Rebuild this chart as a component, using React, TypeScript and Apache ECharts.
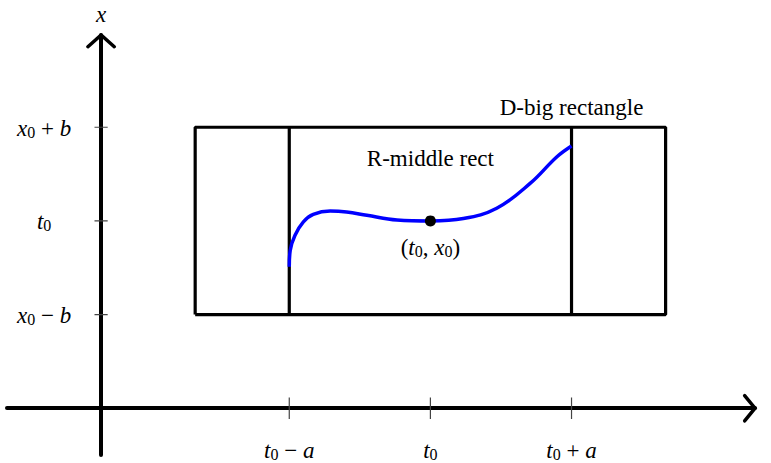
import React, { useEffect, useRef } from "react";
import * as echarts from "echarts";

// Axis ticks and their labels
const X_TICKS = [4, 7, 10];
const X_TICK_LABELS = ["{i|t}{s|0}{n| − }{i|a}", "{i|t}{s|0}", "{i|t}{s|0}{n| + }{i|a}"];
const Y_TICKS = [2, 4, 6];
const Y_TICK_LABELS = ["{i|x}{s|0}{n| − }{i|b}", "{i|t}{s|0}", "{i|x}{s|0}{n| + }{i|b}"];

// Rectangles (t0-a .. t0+a for R, wider for D), x0-b .. x0+b
const BIG_T = [2, 12];
const MID_T = [4, 10];
const RECT_X = [2, 6];

// Solution curve through (t0, x0)
const CURVE_T = [4, 4.02, 4.12, 4.3, 4.51, 4.87, 5.22, 5.65, 6.29, 7, 7.7, 8.41, 9.12, 9.69, 10];
const CURVE_X = [3.02, 3.37, 3.69, 3.98, 4.14, 4.21, 4.19, 4.12, 4.02, 4.0, 4.05, 4.27, 4.8, 5.37, 5.6];
const POINT = [7, 4];

const X_MIN = -2, X_MAX = 13.9, Y_MIN = -1, Y_MAX = 7.97;

const FONT = "Liberation Serif";
const FS = 23;
const rich = {
  i: { fontFamily: FONT, fontStyle: "italic", fontSize: FS, lineHeight: 24, color: "#000" },
  n: { fontFamily: FONT, fontSize: FS, lineHeight: 24, color: "#000" },
  s: { fontFamily: FONT, fontSize: 16, lineHeight: 13, verticalAlign: "bottom", color: "#000" },
};

export default function App() {
  const ref = useRef<HTMLDivElement>(null);
  useEffect(() => {
    if (!ref.current) return;
    const chart = echarts.init(ref.current, null, { renderer: "svg" });

    const xTickSegs: any[] = [];
    X_TICKS.forEach((t) => { xTickSegs.push([t, -0.23], [t, 0.23], "-"); });
    const yTickSegs: any[] = [];
    Y_TICKS.forEach((v) => { yTickSegs.push([-0.14, v], [0.14, v], "-"); });

    const lineBase = { type: "line", symbol: "none", silent: true, animation: false };

    chart.setOption({
      animation: false,
      grid: { left: 7, right: 16, top: 35, bottom: 8, containLabel: false, outerBoundsMode: "none" },
      xAxis: {
        type: "value", min: X_MIN, max: X_MAX,
        splitLine: { show: false },
        axisTick: { show: false },
        axisLabel: { show: false },
        axisLine: { show: true, onZero: true, lineStyle: { color: "#000", width: 4 } },
      },
      yAxis: {
        type: "value", min: Y_MIN, max: Y_MAX,
        name: "x",
        nameLocation: "end",
        nameGap: 21,
        nameTextStyle: { fontFamily: FONT, fontStyle: "italic", fontSize: FS, color: "#000", align: "center", verticalAlign: "middle" },
        splitLine: { show: false },
        axisTick: { show: false },
        axisLabel: { show: false },
        axisLine: { show: true, onZero: true, lineStyle: { color: "#000", width: 4 } },
      },
      series: [
        {
          ...lineBase, name: "xticks", data: xTickSegs, lineStyle: { color: "#444", width: 1.2 }, z: 3,
          markPoint: {
            symbol: "circle", symbolSize: 0, silent: true,
            data: X_TICKS.map((t, i) => ({ coord: [t, 0], value: i, name: X_TICK_LABELS[i] })),
            label: { show: true, position: "inside", offset: [0, 42], formatter: (p: any) => p.name, rich },
          },
        },
        {
          ...lineBase, name: "yticks", data: yTickSegs, lineStyle: { color: "#444", width: 1.2 }, z: 3,
          markPoint: {
            symbol: "circle", symbolSize: 0, silent: true,
            data: Y_TICKS.map((v, i) => ({ coord: [0, v], value: i, name: Y_TICK_LABELS[i] })),
            label: { show: true, position: "inside", offset: [-57, 1], formatter: (p: any) => p.name, rich },
          },
        },
        {
          ...lineBase, name: "xarrow",
          data: [[X_MAX - 0.22, 0.27], [X_MAX, 0], [X_MAX - 0.22, -0.27]],
          smooth: false, lineStyle: { color: "#000", width: 3.5, cap: "round", join: "miter" }, z: 4,
        },
        {
          ...lineBase, name: "yarrow",
          data: [[-0.28, Y_MAX - 0.25], [0, Y_MAX], [0.28, Y_MAX - 0.25]],
          smooth: false, lineStyle: { color: "#000", width: 3.5, cap: "round", join: "miter" }, z: 4,
        },
        {
          ...lineBase, name: "D",
          data: [[BIG_T[0], RECT_X[0]], [BIG_T[1], RECT_X[0]], [BIG_T[1], RECT_X[1]], [BIG_T[0], RECT_X[1]], [BIG_T[0], RECT_X[0]]],
          lineStyle: { color: "#000", width: 3.2 }, z: 3,
          markPoint: {
            symbol: "circle", symbolSize: 0, silent: true,
            data: [{ coord: [MID_T[1], RECT_X[1] + 0.43], name: "D-big rectangle" }],
            label: { show: true, position: "inside", formatter: "D-big rectangle", fontFamily: FONT, fontSize: FS, color: "#000" },
          },
        },
        {
          ...lineBase, name: "R",
          data: [[MID_T[0], RECT_X[0]], [MID_T[0], RECT_X[1]], "-", [MID_T[1], RECT_X[0]], [MID_T[1], RECT_X[1]]],
          lineStyle: { color: "#000", width: 3.2 }, z: 3,
          markPoint: {
            symbol: "circle", symbolSize: 0, silent: true,
            data: [{ coord: [POINT[0], RECT_X[1] - 0.66], name: "R-middle rect" }],
            label: { show: true, position: "inside", formatter: "R-middle rect", fontFamily: FONT, fontSize: FS, color: "#000" },
          },
        },
        {
          ...lineBase, name: "curve",
          data: CURVE_T.map((t, i) => [t, CURVE_X[i]]),
          smooth: 0.4,
          lineStyle: { color: "#0000ff", width: 3.5 }, z: 5,
        },
        {
          type: "scatter", name: "point", silent: true,
          data: [POINT],
          symbolSize: 11,
          itemStyle: { color: "#000", opacity: 1 },
          z: 6,
          label: {
            show: true, position: "bottom", distance: 9, color: "#000",
            formatter: "{n|(}{i|t}{s|0}{n|,}{i| x}{s|0}{n|)}",
            rich,
          },
        },
      ],
    });
    return () => chart.dispose();
  }, []);
  return <div ref={ref} style={{ width: 771, height: 463, position: "absolute", left: 0, top: 0 }} />;
}
